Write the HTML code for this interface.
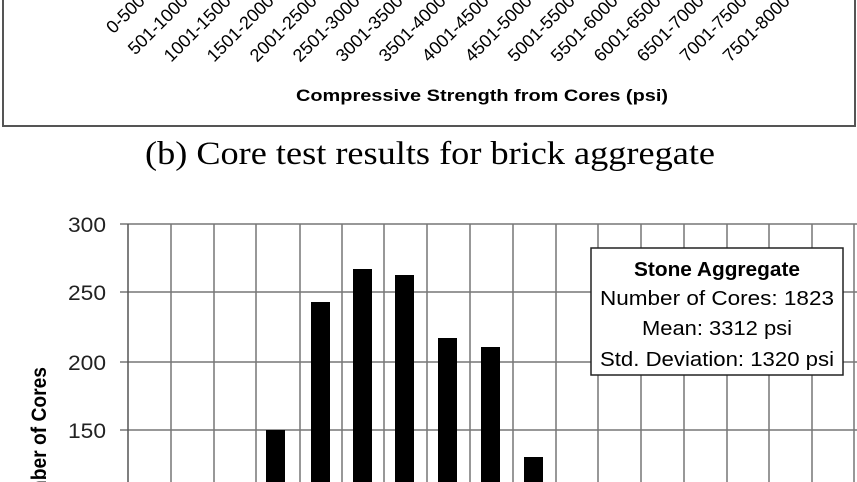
<!DOCTYPE html>
<html><head><meta charset="utf-8"><style>
html,body{margin:0;padding:0;background:#fff;overflow:hidden;width:857px;height:482px;}
svg{display:block;}
</style></head><body>
<svg width="857" height="482" viewBox="0 0 857 482" xmlns="http://www.w3.org/2000/svg" font-family="Liberation Sans, sans-serif" overflow="hidden">
<rect x="3" y="-5" width="852" height="131" fill="none" stroke="#555" stroke-width="2"/>
<g font-size="18" fill="#000" text-anchor="end">
<text transform="translate(146,2) rotate(-45)">0-500</text>
<text transform="translate(189,2) rotate(-45)">501-1000</text>
<text transform="translate(232,2) rotate(-45)">1001-1500</text>
<text transform="translate(275,2) rotate(-45)">1501-2000</text>
<text transform="translate(318,2) rotate(-45)">2001-2500</text>
<text transform="translate(361,2) rotate(-45)">2501-3000</text>
<text transform="translate(404,2) rotate(-45)">3001-3500</text>
<text transform="translate(447,2) rotate(-45)">3501-4000</text>
<text transform="translate(490,2) rotate(-45)">4001-4500</text>
<text transform="translate(533,2) rotate(-45)">4501-5000</text>
<text transform="translate(576,2) rotate(-45)">5001-5500</text>
<text transform="translate(619,2) rotate(-45)">5501-6000</text>
<text transform="translate(662,2) rotate(-45)">6001-6500</text>
<text transform="translate(705,2) rotate(-45)">6501-7000</text>
<text transform="translate(748,2) rotate(-45)">7001-7500</text>
<text transform="translate(791,2) rotate(-45)">7501-8000</text>
</g>
<text x="482" y="101" font-size="17" font-weight="bold" text-anchor="middle" textLength="372" lengthAdjust="spacingAndGlyphs">Compressive Strength from Cores (psi)</text>
<text x="430" y="164" font-family="Liberation Serif, serif" font-size="33" text-anchor="middle" textLength="570" lengthAdjust="spacingAndGlyphs">(b) Core test results for brick aggregate</text>
<g stroke="#777" stroke-width="1.5">
<line x1="120" y1="224" x2="857" y2="224"/>
<line x1="120" y1="292" x2="857" y2="292"/>
<line x1="120" y1="362" x2="857" y2="362"/>
<line x1="120" y1="430" x2="857" y2="430"/>
<line x1="171" y1="224" x2="171" y2="482"/><line x1="214" y1="224" x2="214" y2="482"/>
<line x1="256" y1="224" x2="256" y2="482"/><line x1="300" y1="224" x2="300" y2="482"/>
<line x1="342" y1="224" x2="342" y2="482"/><line x1="384" y1="224" x2="384" y2="482"/>
<line x1="427" y1="224" x2="427" y2="482"/><line x1="470" y1="224" x2="470" y2="482"/>
<line x1="513" y1="224" x2="513" y2="482"/><line x1="556" y1="224" x2="556" y2="482"/>
<line x1="598" y1="224" x2="598" y2="482"/><line x1="641" y1="224" x2="641" y2="482"/>
<line x1="684" y1="224" x2="684" y2="482"/><line x1="727" y1="224" x2="727" y2="482"/>
<line x1="769" y1="224" x2="769" y2="482"/><line x1="812" y1="224" x2="812" y2="482"/>
<line x1="854" y1="224" x2="854" y2="482"/>
</g>
<line x1="128" y1="224" x2="128" y2="482" stroke="#555" stroke-width="1.5"/>
<g font-size="21" text-anchor="end" fill="#222">
<text x="106" y="232" textLength="38" lengthAdjust="spacingAndGlyphs">300</text>
<text x="106" y="300" textLength="38" lengthAdjust="spacingAndGlyphs">250</text>
<text x="106" y="370" textLength="38" lengthAdjust="spacingAndGlyphs">200</text>
<text x="106" y="438" textLength="38" lengthAdjust="spacingAndGlyphs">150</text>
</g>
<text transform="translate(46,445) rotate(-90)" font-size="21" font-weight="bold" text-anchor="middle" textLength="156" lengthAdjust="spacingAndGlyphs">Number of Cores</text>
<g fill="#000">
<rect x="266" y="430" width="19" height="52"/>
<rect x="311" y="302" width="19" height="180"/>
<rect x="353" y="269" width="19" height="213"/>
<rect x="395" y="275" width="19" height="207"/>
<rect x="438" y="338" width="19" height="144"/>
<rect x="481" y="347" width="19" height="135"/>
<rect x="524" y="457" width="19" height="25"/>
</g>
<rect x="591" y="248" width="252" height="127" fill="#fff" stroke="#222" stroke-width="1.5"/>
<g font-size="20" text-anchor="middle">
<text x="717" y="276" font-weight="bold" textLength="166" lengthAdjust="spacingAndGlyphs">Stone Aggregate</text>
<text x="717" y="305" textLength="234" lengthAdjust="spacingAndGlyphs">Number of Cores: 1823</text>
<text x="717" y="335" textLength="150" lengthAdjust="spacingAndGlyphs">Mean: 3312 psi</text>
<text x="717" y="366" textLength="234" lengthAdjust="spacingAndGlyphs">Std. Deviation: 1320 psi</text>
</g>
</svg>
</body></html>
